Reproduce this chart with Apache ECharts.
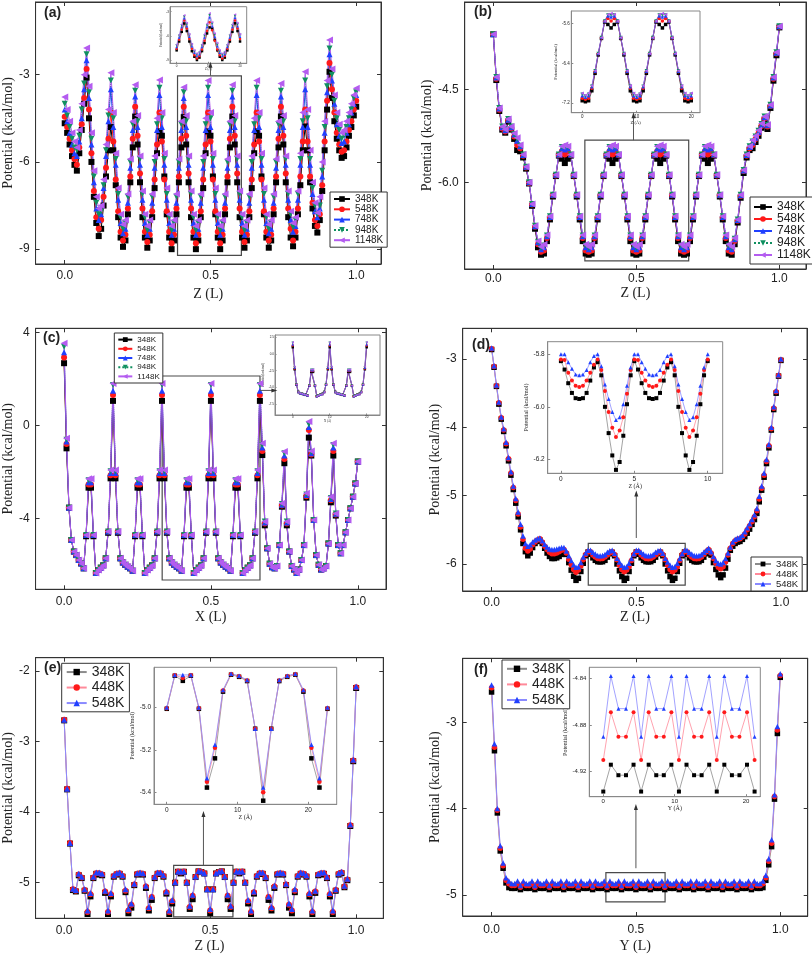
<!DOCTYPE html>
<html><head><meta charset="utf-8">
<script src="https://cdn.jsdelivr.net/npm/echarts@6/dist/echarts.min.js"></script>
<style>html,body{margin:0;padding:0;background:#fff}#c{width:812px;height:956px}</style>
</head><body><div id="c"></div>
<script>
// ---------------- DATA ----------------
const T5 = ['348K','548K','748K','948K','1148K'];
const T3 = ['348K','448K','548K'];
const xTicks = [0, 0.5, 1.0];

// (a) Z (L), step 1/120
const a348 = [-4.67,-5.0,-5.4,-5.8,-6.1,-6.3,-5.7,-4.9,-4.0,-3.1, -4.5,-6.0,-7.2,-8.1,-8.55, -8.3,-7.5,-6.5,-5.6,-4.8,
 -5.6,-6.8,-7.9,-8.6,-8.92, -8.7,-7.8,-6.7,-5.5,-4.44, -5.4,-6.7,-7.9,-8.6,-8.95, -8.7,-7.9,-6.9,-5.7,-4.95,
 -5.1,-6.5,-7.8,-8.6,-9.0, -8.7,-7.8,-6.7,-5.5,-4.46, -5.4,-6.7,-7.9,-8.6,-9.0, -8.7,-7.9,-6.9,-5.7,-4.95,
 -5.1,-6.5,-7.8,-8.6,-9.0, -8.7,-7.8,-6.7,-5.5,-4.44, -5.4,-6.7,-7.9,-8.6,-8.95, -8.7,-7.9,-6.9,-5.7,-4.95,
 -5.1,-6.5,-7.8,-8.6,-8.95, -8.7,-7.8,-6.7,-5.5,-4.44, -5.4,-6.7,-7.9,-8.6,-8.9, -8.6,-7.8,-6.8,-5.6,-4.78,
 -5.6,-6.7,-7.6,-8.2,-8.43, -8.0,-7.0,-5.6,-4.2,-2.9, -3.8,-4.6,-5.2,-5.6,-5.86, -5.8,-5.5,-5.1,-4.8,-4.4,-4.1];
const a548 = [-4.45,-4.8,-5.2,-5.6,-5.9,-6.1,-5.5,-4.7,-3.8,-2.8, -4.2,-5.7,-7.0,-7.9,-8.3, -8.0,-7.2,-6.2,-5.2,-4.3,
 -5.3,-6.6,-7.7,-8.4,-8.7, -8.5,-7.6,-6.5,-5.2,-4.1, -5.1,-6.4,-7.6,-8.4,-8.75, -8.5,-7.7,-6.6,-5.4,-4.3,
 -5.3,-6.6,-7.7,-8.4,-8.8, -8.5,-7.6,-6.5,-5.2,-4.1, -5.1,-6.4,-7.6,-8.4,-8.8, -8.5,-7.7,-6.6,-5.4,-4.3,
 -5.3,-6.6,-7.7,-8.4,-8.8, -8.5,-7.6,-6.5,-5.2,-4.1, -5.1,-6.4,-7.6,-8.4,-8.75, -8.5,-7.7,-6.6,-5.4,-4.3,
 -5.3,-6.6,-7.7,-8.4,-8.7, -8.5,-7.6,-6.5,-5.2,-4.1, -5.1,-6.4,-7.6,-8.3,-8.7, -8.4,-7.6,-6.5,-5.3,-4.2,
 -5.3,-6.5,-7.4,-8.0,-8.2, -7.8,-6.8,-5.3,-3.9,-2.6, -3.5,-4.3,-5.0,-5.4,-5.65, -5.6,-5.3,-4.9,-4.6,-4.2,-3.9];
const a748 = [-4.2,-4.6,-5.0,-5.4,-5.7,-5.8,-5.3,-4.5,-3.5,-2.5, -3.8,-5.4,-6.7,-7.6,-8.0, -7.8,-6.9,-5.8,-4.6,-3.5,
 -4.8,-6.1,-7.3,-8.1,-8.45, -8.3,-7.4,-6.2,-4.9,-3.75, -4.8,-6.1,-7.3,-8.1,-8.5, -8.3,-7.4,-6.2,-4.9,-3.7,
 -4.8,-6.1,-7.3,-8.1,-8.5, -8.3,-7.4,-6.2,-4.9,-3.8, -4.8,-6.1,-7.3,-8.1,-8.5, -8.3,-7.4,-6.2,-4.9,-3.7,
 -4.8,-6.1,-7.3,-8.1,-8.5, -8.3,-7.4,-6.2,-4.9,-3.75, -4.8,-6.1,-7.3,-8.1,-8.5, -8.3,-7.4,-6.2,-4.9,-3.7,
 -4.8,-6.1,-7.3,-8.1,-8.45, -8.3,-7.4,-6.2,-4.9,-3.75, -4.8,-6.1,-7.3,-8.0,-8.4, -8.2,-7.3,-6.1,-4.8,-3.5,
 -4.8,-6.1,-7.1,-7.7,-7.9, -7.6,-6.5,-5.0,-3.6,-2.3, -3.2,-4.0,-4.7,-5.1,-5.35, -5.3,-5.0,-4.7,-4.3,-4.0,-3.7];
const a948 = [-4.0,-4.4,-4.8,-5.2,-5.5,-5.6,-5.1,-4.2,-3.3,-2.3, -3.6,-5.2,-6.5,-7.4,-7.8, -7.7,-6.8,-5.6,-4.4,-3.2,
 -4.5,-5.9,-7.1,-7.9,-8.3, -8.1,-7.2,-6.0,-4.7,-3.55, -4.6,-5.9,-7.1,-7.9,-8.35, -8.1,-7.2,-6.0,-4.7,-3.45,
 -4.5,-5.9,-7.1,-7.9,-8.35, -8.1,-7.2,-6.0,-4.7,-3.6, -4.6,-5.9,-7.1,-7.9,-8.35, -8.1,-7.2,-6.0,-4.7,-3.45,
 -4.5,-5.9,-7.1,-7.9,-8.35, -8.1,-7.2,-6.0,-4.7,-3.55, -4.6,-5.9,-7.1,-7.9,-8.35, -8.1,-7.2,-6.0,-4.7,-3.45,
 -4.5,-5.9,-7.1,-7.9,-8.3, -8.1,-7.2,-6.0,-4.7,-3.55, -4.6,-5.9,-7.1,-7.8,-8.25, -8.0,-7.1,-5.9,-4.6,-3.2,
 -4.5,-5.9,-6.9,-7.5,-7.8, -7.5,-6.3,-4.8,-3.4,-2.1, -3.0,-3.9,-4.5,-4.9,-5.2, -5.1,-4.8,-4.5,-4.2,-3.8,-3.6];
const a1148 = [-3.77,-4.2,-4.6,-5.0,-5.3,-5.5,-4.9,-4.0,-3.0,-2.08, -3.4,-5.0,-6.3,-7.2,-7.6, -7.5,-6.6,-5.4,-4.2,-2.93,
 -4.3,-5.7,-6.9,-7.8,-8.15, -8.0,-7.1,-5.9,-4.6,-3.35, -4.4,-5.8,-7.0,-7.8,-8.2, -8.0,-7.1,-5.8,-4.5,-3.18,
 -4.3,-5.7,-6.9,-7.8,-8.2, -8.0,-7.1,-5.9,-4.6,-3.43, -4.4,-5.8,-7.0,-7.8,-8.2, -8.0,-7.1,-5.8,-4.5,-3.2,
 -4.3,-5.7,-6.9,-7.8,-8.2, -8.0,-7.1,-5.9,-4.6,-3.35, -4.4,-5.8,-7.0,-7.8,-8.2, -8.0,-7.1,-5.8,-4.5,-3.2,
 -4.3,-5.7,-6.9,-7.8,-8.15, -8.0,-7.1,-5.9,-4.6,-3.3, -4.4,-5.8,-7.0,-7.7,-8.1, -7.9,-7.0,-5.7,-4.3,-2.9,
 -4.2,-5.6,-6.7,-7.4,-7.75, -7.2,-6.0,-4.6,-3.2,-1.81, -2.8,-3.7,-4.3,-4.7,-5.0, -4.9,-4.6,-4.3,-4.0,-3.7,-3.47];

// (b) Z (L), step 1/96
const b348 = [-3.61,-4.35,-4.85,-5.15,-5.2,-5.02,-5.15,-5.3,-5.48,-5.5,-5.6,-5.78,-6.02,-6.38,-6.75,-7.05,
 -7.17,-7.15,-6.95,-6.6,-6.23,-5.9,-5.57,-5.62,-5.69,-5.62,-5.57,-5.9,-6.23,-6.6,-6.95,-7.15,
 -7.17,-7.15,-6.95,-6.6,-6.23,-5.9,-5.57,-5.62,-5.69,-5.62,-5.57,-5.9,-6.23,-6.6,-6.95,-7.15,
 -7.17,-7.15,-6.95,-6.6,-6.23,-5.9,-5.57,-5.62,-5.69,-5.62,-5.57,-5.9,-6.23,-6.6,-6.95,-7.15,
 -7.17,-7.15,-6.95,-6.6,-6.23,-5.9,-5.57,-5.62,-5.69,-5.62,-5.57,-5.9,-6.23,-6.6,-6.95,-7.15,
 -7.17, -7.0,-6.65,-6.25,-5.85,-5.6,-5.48,-5.45,-5.35,-5.25,-5.12,-5.0,-5.14,-4.8,-4.36,-3.95,-3.5];
const b548 = [-3.61,-4.33,-4.83,-5.13,-5.18,-5.0,-5.13,-5.26,-5.4,-5.45,-5.57,-5.76,-6.01,-6.36,-6.72,-7.0,
 -7.12,-7.1,-6.9,-6.57,-6.21,-5.89,-5.56,-5.5,-5.55,-5.5,-5.56,-5.89,-6.21,-6.57,-6.9,-7.1,
 -7.12,-7.1,-6.9,-6.57,-6.21,-5.89,-5.56,-5.5,-5.55,-5.5,-5.56,-5.89,-6.21,-6.57,-6.9,-7.1,
 -7.12,-7.1,-6.9,-6.57,-6.21,-5.89,-5.56,-5.5,-5.55,-5.5,-5.56,-5.89,-6.21,-6.57,-6.9,-7.1,
 -7.12,-7.1,-6.9,-6.57,-6.21,-5.89,-5.56,-5.5,-5.55,-5.5,-5.56,-5.89,-6.21,-6.57,-6.9,-7.1,
 -7.12, -6.95,-6.62,-6.22,-5.82,-5.57,-5.45,-5.4,-5.3,-5.21,-5.09,-4.97,-5.1,-4.77,-4.33,-3.92,-3.49];
const b748 = [-3.61,-4.31,-4.81,-5.11,-5.16,-4.99,-5.11,-5.23,-5.33,-5.42,-5.56,-5.75,-6.0,-6.35,-6.71,-6.97,
 -7.08,-7.05,-6.87,-6.56,-6.2,-5.88,-5.55,-5.45,-5.47,-5.45,-5.55,-5.88,-6.2,-6.56,-6.87,-7.05,
 -7.08,-7.05,-6.87,-6.56,-6.2,-5.88,-5.55,-5.45,-5.47,-5.45,-5.55,-5.88,-6.2,-6.56,-6.87,-7.05,
 -7.08,-7.05,-6.87,-6.56,-6.2,-5.88,-5.55,-5.45,-5.47,-5.45,-5.55,-5.88,-6.2,-6.56,-6.87,-7.05,
 -7.08,-7.05,-6.87,-6.56,-6.2,-5.88,-5.55,-5.45,-5.47,-5.45,-5.55,-5.88,-6.2,-6.56,-6.87,-7.05,
 -7.08, -6.92,-6.61,-6.21,-5.81,-5.56,-5.43,-5.36,-5.28,-5.19,-5.07,-4.95,-5.08,-4.76,-4.31,-3.91,-3.48];
const b948 = [-3.61,-4.3,-4.8,-5.1,-5.15,-4.98,-5.1,-5.22,-5.3,-5.41,-5.55,-5.75,-6.0,-6.35,-6.7,-6.96,
 -7.06,-7.02,-6.86,-6.55,-6.2,-5.88,-5.55,-5.43,-5.43,-5.43,-5.55,-5.88,-6.2,-6.55,-6.86,-7.02,
 -7.06,-7.02,-6.86,-6.55,-6.2,-5.88,-5.55,-5.43,-5.43,-5.43,-5.55,-5.88,-6.2,-6.55,-6.86,-7.02,
 -7.06,-7.02,-6.86,-6.55,-6.2,-5.88,-5.55,-5.43,-5.43,-5.43,-5.55,-5.88,-6.2,-6.55,-6.86,-7.02,
 -7.06,-7.02,-6.86,-6.55,-6.2,-5.88,-5.55,-5.43,-5.43,-5.43,-5.55,-5.88,-6.2,-6.55,-6.86,-7.02,
 -7.06, -6.91,-6.6,-6.2,-5.8,-5.55,-5.42,-5.34,-5.26,-5.17,-5.06,-4.94,-5.07,-4.75,-4.3,-3.9,-3.48];
const b1148 = [-3.61,-4.3,-4.8,-5.1,-5.15,-4.98,-5.1,-5.21,-5.28,-5.4,-5.55,-5.75,-6.0,-6.35,-6.7,-6.95,
 -7.04,-7.0,-6.85,-6.55,-6.2,-5.88,-5.55,-5.42,-5.40,-5.42,-5.55,-5.88,-6.2,-6.55,-6.85,-7.0,
 -7.04,-7.0,-6.85,-6.55,-6.2,-5.88,-5.55,-5.42,-5.40,-5.42,-5.55,-5.88,-6.2,-6.55,-6.85,-7.0,
 -7.04,-7.0,-6.85,-6.55,-6.2,-5.88,-5.55,-5.42,-5.40,-5.42,-5.55,-5.88,-6.2,-6.55,-6.85,-7.0,
 -7.04,-7.0,-6.85,-6.55,-6.2,-5.88,-5.55,-5.42,-5.40,-5.42,-5.55,-5.88,-6.2,-6.55,-6.85,-7.0,
 -7.04, -6.9,-6.6,-6.2,-5.8,-5.55,-5.42,-5.32,-5.25,-5.16,-5.05,-4.94,-5.07,-4.75,-4.3,-3.9,-3.48];

// (c) X (L), step 1/120
const c348 = [2.67,-0.99,-3.54,-4.93,-5.43,-5.58,-5.79,-5.94,-6.15,-4.77,-2.68,-2.68,-4.77,-6.35,-6.22,-6.12,-6.02,-5.72,-4.62,-2.28,
 1.05,-2.28,-4.62,-5.72,-5.9,-6.0,-6.08,-6.15,-6.25,-4.77,-2.68,-2.68,-4.77,-6.35,-6.22,-6.12,-6.02,-5.72,-4.62,-2.28,
 1.05,-2.28,-4.62,-5.72,-5.9,-6.0,-6.08,-6.15,-6.25,-4.77,-2.68,-2.68,-4.77,-6.35,-6.22,-6.12,-6.02,-5.72,-4.62,-2.28,
 1.05,-2.28,-4.62,-5.72,-5.9,-6.0,-6.08,-6.15,-6.25,-4.77,-2.68,-2.68,-4.77,-6.35,-6.22,-6.12,-6.02,-5.72,-4.62,-2.28,
 1.05,
 -1.28,-4.3,-5.29,-5.95,-6.1,-6.15,-6.05,-5.15,-3.5,-1.63,-4.3,-5.43,-6.05,-6.2,-6.35,-6.2,-5.79,-5.15,-3.11,-0.53,
 -1.3,-4.07,-5.58,-6.0,-6.2,-6.15,-6.05,-5.08,-3.31,-1.3,-3.88,-5.15,-5.5,-5.15,-4.6,-4.07,-3.57,-3.07,-2.5,-1.56];
const c548 = [2.91,-0.8,-3.54,-4.93,-5.43,-5.58,-5.79,-5.94,-6.15,-4.72,-2.55,-2.55,-4.72,-6.35,-6.22,-6.12,-6.02,-5.72,-4.57,-2.15,
 1.3,-2.15,-4.57,-5.72,-5.9,-6.0,-6.08,-6.15,-6.25,-4.72,-2.55,-2.55,-4.72,-6.35,-6.22,-6.12,-6.02,-5.72,-4.57,-2.15,
 1.3,-2.15,-4.57,-5.72,-5.9,-6.0,-6.08,-6.15,-6.25,-4.72,-2.55,-2.55,-4.72,-6.35,-6.22,-6.12,-6.02,-5.72,-4.57,-2.15,
 1.3,-2.15,-4.57,-5.72,-5.9,-6.0,-6.08,-6.15,-6.25,-4.72,-2.55,-2.55,-4.72,-6.35,-6.22,-6.12,-6.02,-5.72,-4.57,-2.15,
 1.3,
 -1.1,-4.22,-5.29,-5.95,-6.1,-6.15,-6.05,-5.15,-3.45,-1.45,-4.22,-5.43,-6.05,-6.2,-6.35,-6.2,-5.79,-5.15,-3.05,-0.2,
 -1.25,-4.07,-5.58,-6.0,-6.2,-6.15,-6.05,-5.08,-3.22,-1.1,-3.83,-5.15,-5.5,-5.15,-4.6,-4.07,-3.57,-3.07,-2.5,-1.56];
const c748 = [3.14,-0.7,-3.54,-4.93,-5.43,-5.58,-5.79,-5.94,-6.15,-4.72,-2.45,-2.45,-4.72,-6.35,-6.22,-6.12,-6.02,-5.72,-4.57,-2.05,
 1.48,-2.05,-4.57,-5.72,-5.9,-6.0,-6.08,-6.15,-6.25,-4.72,-2.45,-2.45,-4.72,-6.35,-6.22,-6.12,-6.02,-5.72,-4.57,-2.05,
 1.48,-2.05,-4.57,-5.72,-5.9,-6.0,-6.08,-6.15,-6.25,-4.72,-2.45,-2.45,-4.72,-6.35,-6.22,-6.12,-6.02,-5.72,-4.57,-2.05,
 1.48,-2.05,-4.57,-5.72,-5.9,-6.0,-6.08,-6.15,-6.25,-4.72,-2.45,-2.45,-4.72,-6.35,-6.22,-6.12,-6.02,-5.72,-4.57,-2.05,
 1.48,
 -0.95,-4.18,-5.29,-5.95,-6.1,-6.15,-6.05,-5.15,-3.41,-1.3,-4.18,-5.43,-6.05,-6.2,-6.35,-6.2,-5.79,-5.15,-3.0,-0.07,
 -1.2,-4.07,-5.58,-6.0,-6.2,-6.15,-6.05,-5.08,-3.17,-0.95,-3.8,-5.15,-5.5,-5.15,-4.6,-4.07,-3.57,-3.07,-2.5,-1.56];
const c948 = [3.38,-0.62,-3.54,-4.93,-5.43,-5.58,-5.79,-5.94,-6.15,-4.72,-2.36,-2.36,-4.72,-6.35,-6.22,-6.12,-6.02,-5.72,-4.57,-1.98,
 1.73,-1.98,-4.57,-5.72,-5.9,-6.0,-6.08,-6.15,-6.25,-4.72,-2.36,-2.36,-4.72,-6.35,-6.22,-6.12,-6.02,-5.72,-4.57,-1.98,
 1.73,-1.98,-4.57,-5.72,-5.9,-6.0,-6.08,-6.15,-6.25,-4.72,-2.36,-2.36,-4.72,-6.35,-6.22,-6.12,-6.02,-5.72,-4.57,-1.98,
 1.73,-1.98,-4.57,-5.72,-5.9,-6.0,-6.08,-6.15,-6.25,-4.72,-2.36,-2.36,-4.72,-6.35,-6.22,-6.12,-6.02,-5.72,-4.57,-1.98,
 1.73,
 -0.85,-4.14,-5.29,-5.95,-6.1,-6.15,-6.05,-5.15,-3.38,-1.2,-4.14,-5.43,-6.05,-6.2,-6.35,-6.2,-5.79,-5.15,-2.97,0.05,
 -1.15,-4.07,-5.58,-6.0,-6.2,-6.15,-6.05,-5.08,-3.12,-0.85,-3.79,-5.15,-5.5,-5.15,-4.6,-4.07,-3.57,-3.07,-2.5,-1.56];
const c1148 = [3.53,-0.56,-3.54,-4.93,-5.43,-5.58,-5.79,-5.94,-6.15,-4.72,-2.3,-2.3,-4.72,-6.35,-6.22,-6.12,-6.02,-5.72,-4.57,-1.92,
 1.8,-1.92,-4.57,-5.72,-5.9,-6.0,-6.08,-6.15,-6.25,-4.72,-2.3,-2.3,-4.72,-6.35,-6.22,-6.12,-6.02,-5.72,-4.57,-1.92,
 1.8,-1.92,-4.57,-5.72,-5.9,-6.0,-6.08,-6.15,-6.25,-4.72,-2.3,-2.3,-4.72,-6.35,-6.22,-6.12,-6.02,-5.72,-4.57,-1.92,
 1.8,-1.92,-4.57,-5.72,-5.9,-6.0,-6.08,-6.15,-6.25,-4.72,-2.3,-2.3,-4.72,-6.35,-6.22,-6.12,-6.02,-5.72,-4.57,-1.92,
 1.8,
 -0.77,-4.14,-5.29,-5.95,-6.1,-6.15,-6.05,-5.15,-3.35,-1.13,-4.14,-5.43,-6.05,-6.2,-6.35,-6.2,-5.79,-5.15,-2.92,0.16,
 -1.1,-4.07,-5.58,-6.0,-6.2,-6.15,-6.05,-5.08,-3.07,-0.77,-3.79,-5.15,-5.5,-5.15,-4.6,-4.07,-3.57,-3.07,-2.5,-1.56];

// (d) Z (L), step 1/120
const d348 = [-2.86,-3.12,-3.4,-3.66,-3.88,-4.06,-4.27,-4.49,-4.7,-4.91,-5.11,-5.31,-5.5,-5.7,-5.82,
 -5.88,-5.84,-5.76,-5.7,-5.67, -5.65, -5.7,-5.77,-5.84,-5.89,-5.92,-5.92,-5.91,-5.89,-5.86, -5.83,
 -5.86,-5.98,-6.09,-6.18,-6.24,-6.21,-6.11,-5.99,-5.88,
 -5.826,-5.858,-5.91,-5.947,-5.967,-5.97,-5.967,-5.947,-5.90,-5.85,-5.83,-5.88,-6.0,-6.10,-6.185,-6.24,-6.21,-6.11,-5.99,-5.88,
 -5.826,-5.858,-5.91,-5.947,-5.967,-5.97,-5.967,-5.947,-5.90,-5.85,-5.83,-5.88,-6.0,-6.10,-6.185,-6.24,-6.21,-6.11,-5.99,-5.88,
 -5.826, -5.858,-5.91,-5.947,-5.967,-5.97,-5.967,-5.947,-5.9,-5.85, -5.81,
 -5.87,-5.98,-6.08,-6.16,-6.2,-6.16,-6.06,-5.93,-5.8, -5.74,
 -5.7,-5.68,-5.67,-5.64,-5.6,-5.55,-5.49,-5.42,-5.35,-5.26,-5.09,-4.92,-4.73,-4.53,-4.3,-4.04,-3.74,-3.5,-3.25,-3.02];
const d448 = [-2.85,-3.11,-3.39,-3.64,-3.86,-4.04,-4.24,-4.46,-4.67,-4.88,-5.07,-5.27,-5.46,-5.64,-5.77,
 -5.81,-5.78,-5.72,-5.68,-5.65, -5.63, -5.68,-5.74,-5.79,-5.83,-5.85,-5.85,-5.84,-5.82,-5.8, -5.79,
 -5.84,-5.93,-6.01,-6.08,-6.12,-6.09,-6.03,-5.94,-5.86,
 -5.82,-5.822,-5.87,-5.90,-5.92,-5.924,-5.92,-5.90,-5.87,-5.84,-5.82,-5.86,-5.94,-6.02,-6.08,-6.115,-6.09,-6.04,-5.95,-5.86,
 -5.82,-5.822,-5.87,-5.90,-5.92,-5.924,-5.92,-5.90,-5.87,-5.84,-5.82,-5.86,-5.94,-6.02,-6.08,-6.115,-6.09,-6.04,-5.95,-5.86,
 -5.82, -5.822,-5.87,-5.9,-5.92,-5.924,-5.92,-5.9,-5.86,-5.82, -5.79,
 -5.84,-5.92,-5.99,-6.05,-6.07,-6.04,-5.97,-5.87,-5.77, -5.7,
 -5.66,-5.64,-5.63,-5.6,-5.56,-5.5,-5.44,-5.38,-5.31,-5.22,-5.05,-4.89,-4.7,-4.5,-4.27,-4.02,-3.72,-3.48,-3.24,-3.01];
const d548 = [-2.84,-3.1,-3.38,-3.63,-3.85,-4.02,-4.22,-4.44,-4.65,-4.86,-5.04,-5.24,-5.42,-5.59,-5.7,
 -5.74,-5.72,-5.68,-5.65,-5.63, -5.62, -5.66,-5.71,-5.75,-5.78,-5.79,-5.79,-5.78,-5.77,-5.76, -5.76,
 -5.81,-5.88,-5.95,-6.01,-6.05,-6.04,-5.98,-5.9,-5.84,
 -5.80,-5.80,-5.83,-5.855,-5.877,-5.88,-5.877,-5.86,-5.83,-5.806,-5.80,-5.845,-5.915,-5.97,-6.02,-6.05,-6.04,-5.99,-5.92,-5.85,
 -5.80,-5.80,-5.83,-5.855,-5.877,-5.88,-5.877,-5.86,-5.83,-5.806,-5.80,-5.845,-5.915,-5.97,-6.02,-6.05,-6.04,-5.99,-5.92,-5.85,
 -5.80, -5.80,-5.83,-5.855,-5.877,-5.88,-5.877,-5.86,-5.83,-5.8, -5.77,
 -5.82,-5.89,-5.95,-5.99,-6.0,-5.98,-5.92,-5.84,-5.75, -5.68,
 -5.64,-5.62,-5.61,-5.58,-5.53,-5.47,-5.41,-5.35,-5.28,-5.19,-5.01,-4.86,-4.67,-4.47,-4.25,-4.0,-3.7,-3.46,-3.23,-3.0];

// (e) Z (L), step 1/100
const e348 = [-2.7,-3.68,-4.45,-5.11,-5.13,-4.9,-4.94,-5.12,-5.45,-5.2,
 -4.94,-4.88,-4.89,-4.9,-5.15,-5.45,-5.2,-4.92,-4.89,-4.88,
 -4.92,-5.14,-5.44,-5.36,-5.04,-4.89,-4.88,-4.89,-5.08,-5.4,
 -5.25,-4.94,-4.88,-4.88,-4.92,-5.16,-5.45,-5.3,-5.006,-4.85,
 -4.874,-4.85,-5.006,-5.378,-5.24,-4.925,-4.845,-4.855,-4.875,-5.10,
 -5.44,
 -5.10,-4.875,-4.855,-4.845,-4.925,-5.24,-5.378,-5.006,-4.85,-4.874,
 -4.85,-5.006,-5.3,-5.45,-5.16,-4.92,-4.88,-4.88,-4.94,-5.25,
 -5.4,-5.08,-4.89,-4.88,-4.89,-5.04,-5.36,-5.44,-5.14,-4.92,
 -4.88,-4.89,-4.92,-5.2,-5.45,-5.15,-4.9,-4.89,-4.88,-4.94,
 -5.2,-5.45,-5.12,-4.89,-4.87,-5.07,-4.97,-4.2,-3.28,-2.24];
const e448 = [-2.69,-3.67,-4.44,-5.1,-5.12,-4.89,-4.93,-5.11,-5.42,-5.17,
 -4.93,-4.87,-4.87,-4.89,-5.13,-5.42,-5.17,-4.91,-4.88,-4.87,
 -4.91,-5.12,-5.40,-5.32,-5.03,-4.88,-4.87,-4.88,-5.06,-5.37,
 -5.21,-4.93,-4.87,-4.87,-4.91,-5.14,-5.42,-5.27,-5.003,-4.848,
 -4.86,-4.848,-5.003,-5.35,-5.19,-4.92,-4.843,-4.852,-4.872,-5.10,
 -5.40,
 -5.10,-4.872,-4.852,-4.843,-4.92,-5.19,-5.35,-5.003,-4.848,-4.86,
 -4.848,-5.003,-5.27,-5.42,-5.14,-4.91,-4.87,-4.87,-4.93,-5.21,
 -5.37,-5.06,-4.88,-4.87,-4.88,-5.03,-5.32,-5.40,-5.12,-4.91,
 -4.87,-4.88,-4.91,-5.17,-5.42,-5.13,-4.89,-4.87,-4.87,-4.93,
 -5.17,-5.42,-5.11,-4.88,-4.86,-5.06,-4.96,-4.19,-3.27,-2.23];
const e548 = [-2.69,-3.67,-4.44,-5.09,-5.11,-4.88,-4.92,-5.1,-5.40,-5.15,
 -4.92,-4.86,-4.86,-4.88,-5.12,-5.4,-5.15,-4.9,-4.87,-4.86,
 -4.9,-5.1,-5.38,-5.3,-5.02,-4.87,-4.86,-4.87,-5.05,-5.35,
 -5.2,-4.92,-4.86,-4.86,-4.9,-5.13,-5.40,-5.25,-5.0,-4.846,
 -4.846,-4.846,-5.0,-5.334,-5.176,-4.917,-4.84,-4.85,-4.87,-5.10,
 -5.378,
 -5.10,-4.87,-4.85,-4.84,-4.917,-5.176,-5.334,-5.0,-4.846,-4.846,
 -4.846,-5.0,-5.25,-5.40,-5.13,-4.9,-4.86,-4.86,-4.92,-5.2,
 -5.35,-5.05,-4.87,-4.86,-4.87,-5.02,-5.3,-5.38,-5.1,-4.9,
 -4.86,-4.87,-4.9,-5.15,-5.4,-5.12,-4.88,-4.86,-4.86,-4.92,
 -5.15,-5.40,-5.1,-4.87,-4.85,-5.05,-4.95,-4.18,-3.26,-2.22];

// (f) Y (L), step 1/100
const f348 = [-2.65,-3.33,-4.05,-4.49,-4.69,-4.86,
 -4.914,-4.923,-4.923,-4.914,-4.937, -4.914,-4.923,-4.923,-4.914,-4.937, -4.914,-4.923,-4.923,-4.914,-4.937,
 -4.914,-4.923,-4.923,-4.914,-4.937, -4.914,-4.923,-4.923,-4.914,-4.937, -4.914,-4.923,-4.923,-4.914,-4.937,
 -4.914,-4.923,-4.923,-4.914,-4.937, -4.914,-4.923,-4.923,-4.914,-4.937, -4.914,-4.923,-4.923,-4.914,-4.937,
 -4.914,-4.923,-4.923,-4.914,-4.937, -4.914,-4.923,-4.923,-4.914,-4.937, -4.914,-4.923,-4.923,-4.914,-4.937,
 -4.914,-4.923,-4.923,-4.914,-4.937, -4.914,-4.923,-4.923,-4.914,-4.937, -4.914,-4.923,-4.923,-4.914,-4.937,
 -4.914,-4.923,-4.923,-4.914,-4.937, -4.914,-4.923,-4.923,-4.914,-4.937,
 -4.914,-4.923,-4.923,-4.914, -4.83,-4.65,-4.44,-3.89,-3.13,-2.48];
const f448 = [-2.6,-3.29,-4.02,-4.46,-4.66,-4.83,
 -4.869,-4.89,-4.89,-4.869,-4.91, -4.869,-4.89,-4.89,-4.869,-4.91, -4.869,-4.89,-4.89,-4.869,-4.91,
 -4.869,-4.89,-4.89,-4.869,-4.91, -4.869,-4.89,-4.89,-4.869,-4.91, -4.869,-4.89,-4.89,-4.869,-4.91,
 -4.869,-4.89,-4.89,-4.869,-4.91, -4.869,-4.89,-4.89,-4.869,-4.91, -4.869,-4.89,-4.89,-4.869,-4.91,
 -4.869,-4.89,-4.89,-4.869,-4.91, -4.869,-4.89,-4.89,-4.869,-4.91, -4.869,-4.89,-4.89,-4.869,-4.91,
 -4.869,-4.89,-4.89,-4.869,-4.91, -4.869,-4.89,-4.89,-4.869,-4.91, -4.869,-4.89,-4.89,-4.869,-4.91,
 -4.869,-4.89,-4.89,-4.869,-4.91, -4.869,-4.89,-4.89,-4.869,-4.91,
 -4.869,-4.89,-4.89,-4.869, -4.8,-4.61,-4.4,-3.86,-3.09,-2.46];
const f548 = [-2.57,-3.25,-4.0,-4.43,-4.63,-4.8,
 -4.838,-4.866,-4.866,-4.838,-4.89, -4.838,-4.866,-4.866,-4.838,-4.89, -4.838,-4.866,-4.866,-4.838,-4.89,
 -4.838,-4.866,-4.866,-4.838,-4.89, -4.838,-4.866,-4.866,-4.838,-4.89, -4.838,-4.866,-4.866,-4.838,-4.89,
 -4.838,-4.866,-4.866,-4.838,-4.89, -4.838,-4.866,-4.866,-4.838,-4.89, -4.838,-4.866,-4.866,-4.838,-4.89,
 -4.838,-4.866,-4.866,-4.838,-4.89, -4.838,-4.866,-4.866,-4.838,-4.89, -4.838,-4.866,-4.866,-4.838,-4.89,
 -4.838,-4.866,-4.866,-4.838,-4.89, -4.838,-4.866,-4.866,-4.838,-4.89, -4.838,-4.866,-4.866,-4.838,-4.89,
 -4.838,-4.866,-4.866,-4.838,-4.89, -4.838,-4.866,-4.866,-4.838,-4.89,
 -4.838,-4.866,-4.866,-4.838, -4.77,-4.58,-4.36,-3.84,-3.05,-2.44];

// ---------------- BUILD ----------------
const grids=[], xAxes=[], yAxes=[], series=[], legends=[];
const C5 = ['#000000','#ff1a1a','#2040ff','#109060','#b45cf0'];
const L5 = ['#000000','#ff1a1a','#2040ff','#109060','#b45cf0'];
const LT5 = ['solid','solid','solid','dotted','solid'];
const S5 = [['rect',0],['circle',0],['triangle',0],['triangle',180],['triangle',90]];
const C3 = ['#000000','#ff1a1a','#2040ff'];
const L3 = ['#8c8c8c','#ff8a9a','#8a8aff'];
const S3 = [['rect',0],['circle',0],['triangle',0]];
const AX = '#333';
const seq = (n, st) => Array.from({length:n}, (_, i) => i * st);

function panel(o){
  const gi = grids.length;
  grids.push({left:o.l, top:o.t, width:o.w, height:o.h, show:true, borderColor:o.bc||AX, borderWidth:1, backgroundColor:'rgba(0,0,0,0)'});
  const common = (vals)=>({
    axisLine:{show:true,onZero:false,lineStyle:{color:o.bc||AX,width:1}},
    axisTick:{show:true,inside:true,length:o.tl,customValues:vals,lineStyle:{color:o.bc||AX}},
    splitLine:{show:false}});
  const xi = xAxes.length;
  xAxes.push(Object.assign({type:'value',gridIndex:gi,min:o.x[0],max:o.x[1],position:'bottom',
    axisLabel:{show:true,customValues:o.xt,formatter:o.xf,fontSize:o.lf,fontFamily:'Liberation Sans',color:'#222',margin:o.xm},
    name:o.xn,nameLocation:'middle',nameGap:o.xng,nameTextStyle:{fontFamily:'Liberation Serif',fontSize:o.nf,color:'#222'}}, common(o.xt)));
  const yi = yAxes.length;
  yAxes.push(Object.assign({type:'value',gridIndex:gi,min:o.y[0],max:o.y[1],position:'left',
    axisLabel:{show:true,customValues:o.yt,formatter:o.yf,fontSize:o.lf,fontFamily:'Liberation Sans',color:'#222',margin:o.ym},
    name:o.yn,nameLocation:'middle',nameRotate:90,nameGap:o.yng,nameTextStyle:{fontFamily:'Liberation Serif',fontSize:o.nf,color:'#222'}}, common(o.yt)));
  if(o.mirror){
    xAxes.push(Object.assign({type:'value',gridIndex:gi,min:o.x[0],max:o.x[1],position:'top',axisLabel:{show:false}}, common(o.xt)));
    yAxes.push(Object.assign({type:'value',gridIndex:gi,min:o.y[0],max:o.y[1],position:'right',axisLabel:{show:false}}, common(o.yt)));
  }
  return {xi, yi};
}
function addS(name, xs, ys, ax, col, lcol, lt, sym, size, lw, extra){
  series.push(Object.assign({type:'line', name, xAxisIndex:ax.xi, yAxisIndex:ax.yi,
    data: xs.map((x,k)=>[x, ys[k]]), symbol:sym[0], symbolRotate:sym[1], symbolSize:size,
    showSymbol:true, showAllSymbol:true, lineStyle:{color:lcol,width:lw,type:lt}, itemStyle:{color:col},
    emphasis:{disabled:true}, silent:true, animation:false}, extra||{}));
}
// zoom box (markArea) + arrow (small line series with an arrow symbol at its tip)
function deco(ax, box, arrow, rot){
  series.push({type:'line', name:'box', xAxisIndex:ax.xi, yAxisIndex:ax.yi, data:[], silent:true, animation:false, z:5,
    markArea:{silent:true,itemStyle:{color:'rgba(0,0,0,0)',borderColor:'#4a4a4a',borderWidth:1.2},label:{show:false},
      data:[[{coord:box[0]},{coord:box[1]}]]}});
  series.push({type:'line', name:'arrow', xAxisIndex:ax.xi, yAxisIndex:ax.yi, silent:true, animation:false, z:6,
    lineStyle:{color:'#555',width:1}, itemStyle:{color:'#333'}, showSymbol:true,
    data:[{value:arrow[0], symbol:'none'}, {value:arrow[1], symbol:'triangle', symbolSize:[4,6], symbolRotate:rot||0}]});
}
const f0 = v=>v.toFixed(0), f1 = v=>v.toFixed(1), f2 = v=>v.toFixed(2);
const mainBase = {tl:4, lf:12, nf:14, xm:6, ym:6, mirror:true, xt:xTicks, xf:f1};

function legend(key, names, o){
  legends.push({show:true, left:o.l, top:o.t, orient:'vertical', selectedMode:false,
    data: names.map(n=>key+'|'+n), formatter:n=>n.split('|')[1],
    itemWidth:o.iw, itemHeight:o.ih, itemGap:o.g, padding:o.p, borderColor:'#333', borderWidth:1, backgroundColor:'#fff',
    textStyle:{fontSize:o.fs, fontFamily:'Liberation Sans', color:'#222', lineHeight:o.lh}});
}

// ---- (a)
const XA = seq(121, 1/120);
const aSet = [a348,a548,a748,a948,a1148];
let ax = panel(Object.assign({}, mainBase, {l:34,t:2,w:347,h:262,x:[-0.1,1.085],y:[-9.51,-0.5],yt:[-9,-6,-3],yf:f0,xn:'Z (L)',yn:'Potential (kcal/mol)',xng:23,yng:19}));
aSet.forEach((ys,k)=>addS('a|'+T5[k], XA, ys, ax, C5[k], L5[k], LT5[k], S5[k], k===4?7:6, 1));
deco(ax, [[0.387,-3.04],[0.606,-9.21]], [[0.5,-3.04],[0.5,-2.66]]);
legend('a', T5, {l:330,t:192,iw:16,ih:7,g:0.3,p:[2,4,2,3],fs:10,lh:10});
let ia = panel({l:170,t:6.7,w:76.7,h:56.6,x:[-2.1,22.1],y:[-9.41,-2.38],xt:[0,10,20],yt:[-9,-6,-3],xf:f0,yf:f0,tl:1.5,lf:3,nf:3,xm:1,ym:1,xn:'Z (Å)',yn:'Potential (kcal/mol)',xng:4,yng:5,bc:'#888'});
aSet.forEach((ys,k)=>addS('ai|'+T5[k], seq(26,0.8), ys.slice(46,72), ia, C5[k], L5[k], LT5[k], S5[k], 2.5, 0.5));

// ---- (b)
const XB = seq(97, 1/96);
const bSet = [b348,b548,b748,b948,b1148];
ax = panel(Object.assign({}, mainBase, {l:464.7,t:2,w:341.3,h:267,x:[-0.1,1.093],y:[-7.4,-3.09],yt:[-6.0,-4.5],yf:f1,xn:'Z (L)',yn:'Potential (kcal/mol)',xng:13,yng:27,xm:4}));
bSet.forEach((ys,k)=>addS('b|'+T5[k], XB, ys, ax, C5[k], L5[k], LT5[k], S5[k], k===4?7:6, 1));
deco(ax, [[0.32,-5.32],[0.683,-7.27]], [[0.49,-5.32],[0.49,-4.92]]);
legend('b', T5, {l:750,t:197,iw:18,ih:7,g:0,p:[4,4,3,3],fs:12,lh:10.7});
let ib = panel({l:571.3,t:11,w:128.7,h:101.7,x:[-2.0,21.6],y:[-7.39,-5.35],xt:[0,10,20],yt:[-7.2,-6.4,-5.6],xf:f0,yf:f1,tl:2,lf:4.5,nf:4.5,xm:1.5,ym:1.5,xn:'Z (Å)',yn:'Potential (kcal/mol)',xng:6,yng:10,bc:'#888'});
bSet.forEach((ys,k)=>addS('bi|'+T5[k], seq(35,20/34), ys.slice(31,66), ib, C5[k], L5[k], LT5[k], S5[k], 3.5, 0.7));

// ---- (c)
const cSet = [c348,c548,c748,c948,c1148];
ax = panel(Object.assign({}, mainBase, {l:34,t:328.3,w:352,h:261,x:[-0.097,1.096],y:[-7.05,4.17],yt:[-4,0,4],yf:f0,xn:'X (L)',yn:'Potential (kcal/mol)',xng:21,yng:19}));
cSet.forEach((ys,k)=>addS('c|'+T5[k], XA, ys, ax, C5[k], L5[k], LT5[k], S5[k], k===4?7:6, 1));
deco(ax, [[0.334,2.12],[0.667,-6.65]], [[0.667,1.5],[0.716,1.5]], -90);
legend('c', T5, {l:114.3,t:333,iw:14,ih:6,g:0,p:[2,3,2,3],fs:8,lh:9.2});
let ic = panel({l:275,t:335,w:105,h:80,x:[-4.8,23.6],y:[-9.2,2.9],xt:[0,10,20],yt:[-7.5,-5,-2.5,0,2.5],xf:f0,yf:f1,tl:1.5,lf:3,nf:3,xm:1,ym:1,xn:'X (Å)',yn:'Potential (kcal/mol)',xng:4,yng:7,bc:'#888'});
cSet.forEach((ys,k)=>addS('ci|'+T5[k], seq(41,0.5), ys.slice(40,81), ic, C5[k], L5[k], LT5[k], S5[k], 2.5, 0.6));

// ---- (d)
const dSet = [d348,d448,d548];
ax = panel(Object.assign({}, mainBase, {l:462.7,t:328.3,w:344.3,h:262.7,x:[-0.1,1.09],y:[-6.396,-2.55],yt:[-6,-5,-4,-3],yf:f0,xn:'Z (L)',yn:'Potential (kcal/mol)',xng:19,yng:20}));
dSet.forEach((ys,k)=>addS('d|'+T3[k], XA, ys, ax, C3[k], L3[k], 'solid', S3[k], 5.5, 1));
deco(ax, [[0.334,-5.70],[0.669,-6.31]], [[0.5,-5.62],[0.5,-4.97]]);
legend('d', T3, {l:751,t:557,iw:16,ih:6,g:0,p:[2,4,2,3],fs:9.5,lh:8.4});
let id = panel({l:547.7,t:341.7,w:175,h:131.6,x:[-0.9,11.02],y:[-6.253,-5.752],xt:[0,5,10],yt:[-6.2,-6.0,-5.8],xf:f0,yf:f1,tl:2.5,lf:6.5,nf:6,xm:2,ym:3,xn:'Z (Å)',yn:'Potential (kcal/mol)',xng:10,yng:16,bc:'#888'});
dSet.forEach((ys,k)=>addS('di|'+T3[k], seq(41,0.25), ys.slice(40,81), id, C3[k], L3[k], 'solid', S3[k], 4, 0.8));

// ---- (e)
const XE = seq(101, 1/100);
const eSet = [e348,e448,e548];
ax = panel(Object.assign({}, mainBase, {l:34,t:657.7,w:349.3,h:260.6,x:[-0.098,1.093],y:[-5.511,-1.81],yt:[-5,-4,-3,-2],yf:f0,xn:'Z (L)',yn:'Potential (kcal/mol)',xng:21,yng:19}));
eSet.forEach((ys,k)=>addS('e|'+T3[k], XE, ys, ax, C3[k], L3[k], 'solid', S3[k], 6, 1));
deco(ax, [[0.375,-4.76],[0.578,-5.49]], [[0.477,-4.76],[0.477,-4.03]]);
legend('e', T3, {l:61.7,t:663.3,iw:20,ih:8,g:0,p:[1,5,1,4],fs:14,lh:15.5});
let ie = panel({l:154,t:667.3,w:182.7,h:137,x:[-1.8,24],y:[-5.457,-4.81],xt:[0,10,20],yt:[-5.4,-5.2,-5.0],xf:f0,yf:f1,tl:2.5,lf:6.5,nf:6,xm:2,ym:3,xn:'Z (Å)',yn:'Potential (kcal/mol)',xng:10,yng:16,bc:'#888'});
eSet.forEach((ys,k)=>addS('ei|'+T3[k], seq(21,1.135), ys.slice(38,59), ie, C3[k], L3[k], 'solid', S3[k], 4.5, 0.8));

// ---- (f)
const fSet = [f348,f448,f548];
ax = panel(Object.assign({}, mainBase, {l:462.7,t:658.3,w:345,h:257.7,x:[-0.1,1.095],y:[-5.243,-2.26],yt:[-5,-4,-3],yf:f0,xn:'Y (L)',yn:'Potential (kcal/mol)',xng:23,yng:20,xm:8}));
fSet.forEach((ys,k)=>addS('f|'+T3[k], XE, ys, ax, C3[k], L3[k], 'solid', S3[k], 5.5, 1));
deco(ax, [[0.396,-4.74],[0.601,-5.08]], [[0.5,-4.69],[0.5,-3.98]]);
legend('f', T3, {l:502,t:660,iw:20,ih:8,g:0,p:[1,5,1,4],fs:14,lh:15.6});
let iff = panel({l:589.3,t:667.3,w:171,h:129.4,x:[-1.96,22],y:[-4.9414,-4.8306],xt:[0,10,20],yt:[-4.92,-4.88,-4.84],xf:f0,yf:f2,tl:2.5,lf:6,nf:6,xm:2,ym:3,xn:'Y (Å)',yn:'Potential (kcal/mol)',xng:9,yng:18,bc:'#888'});
fSet.forEach((ys,k)=>addS('fi|'+T3[k], seq(21,1.06), ys.slice(40,61), iff, C3[k], L3[k], 'solid', S3[k], 4, 0.8));

// panel letters
const letters = [['(a)',44,6],['(b)',474,5],['(c)',43,331],['(d)',472,338],['(e)',44,661],['(f)',474,663]];
const graphic = letters.map(([t,x,y])=>({type:'text',left:x,top:y,z:100,style:{text:t,font:'bold 14px "Liberation Sans"',fill:'#222'}}));

const chart = echarts.init(document.getElementById('c'), null, {renderer:'canvas'});
chart.setOption({animation:false, backgroundColor:'#fff', grid:grids, xAxis:xAxes, yAxis:yAxes, series, legend:legends, graphic});
</script></body></html>
